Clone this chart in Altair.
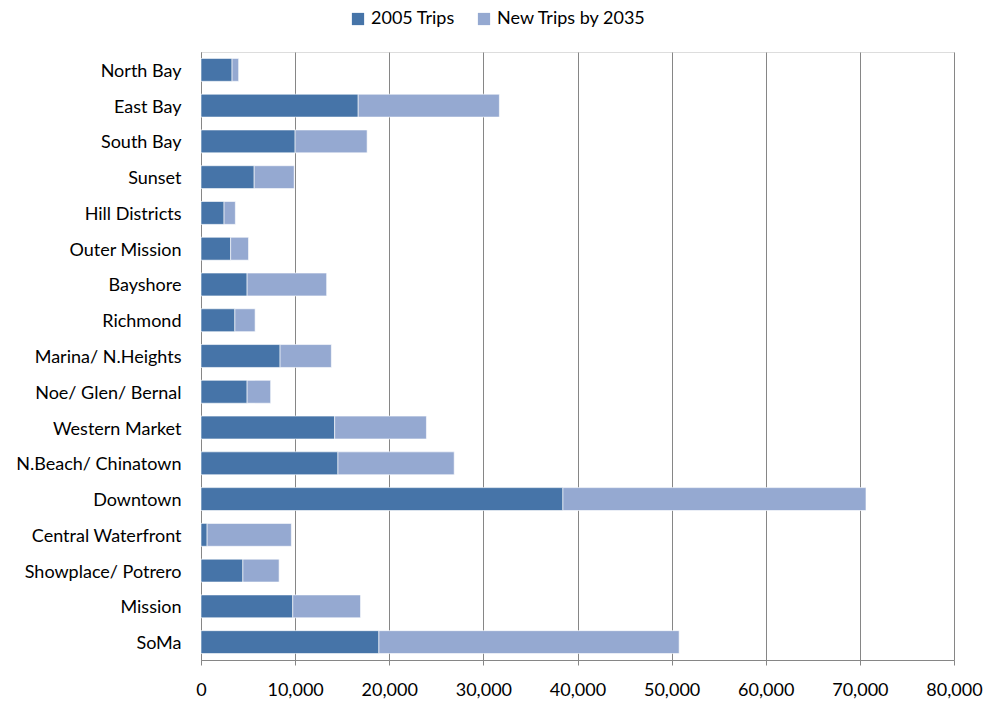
import altair as alt
import pandas as pd

regions = ["North Bay", "East Bay", "South Bay", "Sunset", "Hill Districts", "Outer Mission",
           "Bayshore", "Richmond", "Marina/ N.Heights", "Noe/ Glen/ Bernal", "Western Market",
           "N.Beach/ Chinatown", "Downtown", "Central Waterfront", "Showplace/ Potrero",
           "Mission", "SoMa"]
trips_2005 = [3300, 16700, 10000, 5650, 2450, 3150, 4900, 3600, 8400, 4900, 14200,
              14550, 38450, 650, 4450, 9750, 18900]
new_by_2035 = [700, 15000, 7650, 4250, 1200, 1900, 8450, 2150, 5450, 2500, 9750,
               12350, 32200, 8950, 3850, 7200, 31900]
series = ["2005 Trips", "New Trips by 2035"]
colors = ["#4674A8", "#95A9D1"]
x_ticks = [0, 10000, 20000, 30000, 40000, 50000, 60000, 70000, 80000]

rows = []
for r, a, b in zip(regions, trips_2005, new_by_2035):
    rows.append({"Region": r, "Series": series[0], "Trips": a, "ord": 0})
    rows.append({"Region": r, "Series": series[1], "Trips": b, "ord": 1})
df = pd.DataFrame(rows)

FONT = "Lato"
FS = 18

chart = alt.Chart(df).mark_bar(
    stroke="white", strokeOpacity=0.6, strokeWidth=1
).encode(
    y=alt.Y("Region:N", sort=regions,
            scale=alt.Scale(paddingInner=0.36, paddingOuter=0.18),
            axis=alt.Axis(title=None, ticks=False, domain=True, domainColor="#868686",
                          labelPadding=20, labelFontSize=FS, labelFont=FONT,
                          labelColor="#000000", labelOffset=2)),
    x=alt.X("Trips:Q", stack="zero",
            scale=alt.Scale(domain=[0, 80000], nice=False),
            axis=alt.Axis(title=None, values=x_ticks, format=",.0f", grid=True,
                          gridColor="#868686", gridWidth=1, domainColor="#868686",
                          tickColor="#868686", tickSize=5, labelPadding=16,
                          labelFontSize=FS, labelFont=FONT, labelColor="#000000",
                          labelFlush=False)),
    color=alt.Color("Series:N", scale=alt.Scale(domain=series, range=colors),
                    legend=alt.Legend(title=None, orient="none", legendX=148, legendY=-42,
                                      direction="horizontal", symbolType="square",
                                      symbolSize=150, symbolStrokeWidth=0,
                                      labelFontSize=FS, labelFont=FONT,
                                      labelColor="#000000", columnPadding=20)),
    order=alt.Order("ord:Q", sort="ascending"),
).properties(
    width=753, height=608,
    autosize=alt.AutoSizeParams(type="none"),
    padding={"left": 201, "top": 52, "right": 30, "bottom": 44},
).configure_view(stroke=None).configure(background="white")

chart.save("out.html", embed_options={"renderer": "svg", "actions": False})
